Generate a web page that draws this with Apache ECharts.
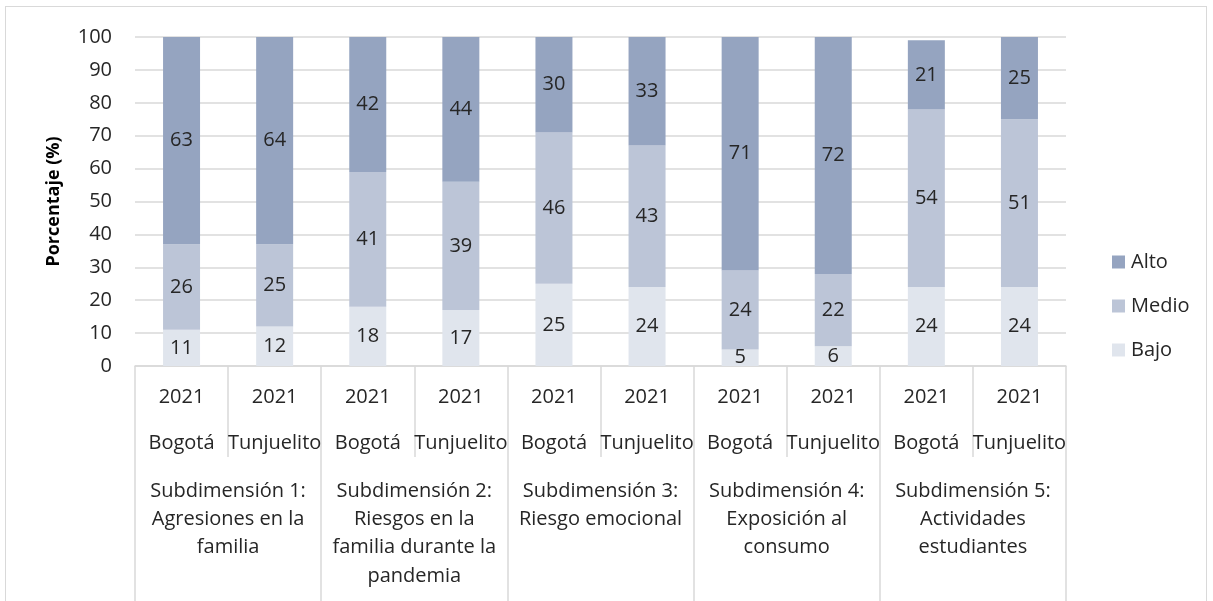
<!DOCTYPE html>
<html>
<head>
<meta charset="utf-8">
<script src="https://cdn.jsdelivr.net/npm/echarts@6/dist/echarts.min.js"></script>
<style>
  html, body { margin: 0; padding: 0; background: #fff; }
  #chart { position: absolute; left: 5px; top: 6px; width: 1202px; height: 600px; box-sizing: border-box; border: 1px solid #d9d9d9; border-bottom: none; }
</style>
</head>
<body>
<div id="chart"></div>
<script>
// Group labels for the three-level category axis
const years = ['2021', '2021', '2021', '2021', '2021', '2021', '2021', '2021', '2021', '2021'];
const cities = ['Bogotá', 'Tunjuelito', 'Bogotá', 'Tunjuelito', 'Bogotá', 'Tunjuelito', 'Bogotá', 'Tunjuelito', 'Bogotá', 'Tunjuelito'];
const subdimensions = [
  'Subdimensión 1:\nAgresiones en la\nfamilia',
  'Subdimensión 2:\nRiesgos en la\nfamilia durante la\npandemia',
  'Subdimensión 3:\nRiesgo emocional',
  'Subdimensión 4:\nExposición al\nconsumo',
  'Subdimensión 5:\nActividades\nestudiantes'
];

// Percentages per risk level
const bajo  = [11, 12, 18, 17, 25, 24, 5, 6, 24, 24];
const medio = [26, 25, 41, 39, 46, 43, 24, 22, 54, 51];
const alto  = [63, 64, 42, 44, 30, 33, 71, 72, 21, 25];

const yTicks = { min: 0, max: 100, interval: 10 };

const FONT = '"Open Sans", "Noto Sans", sans-serif';
const TEXT = '#262626';
const GRID = '#d9d9d9';
const SIZE = 20;

const chart = echarts.init(document.getElementById('chart'), null, { renderer: 'canvas' });

const keys = cities.map((c, i) => i + ':' + c);

function stackSeries(name, values, color) {
  return {
    name: name,
    type: 'bar',
    stack: 'nivel',
    xAxisIndex: 0,
    barWidth: 37,
    data: values,
    itemStyle: { color: color },
    label: {
      show: true,
      position: 'inside',
      color: TEXT,
      fontFamily: FONT,
      fontSize: SIZE
    }
  };
}

chart.setOption({
  animation: false,
  textStyle: { fontFamily: FONT },
  grid: { left: 129, right: 140, top: 30, bottom: 240, containLabel: false },
  legend: {
    orient: 'vertical',
    left: 1101,
    top: 240,
    itemWidth: 13,
    itemHeight: 13,
    itemGap: 24,
    icon: 'rect',
    data: ['Alto', 'Medio', 'Bajo'],
    textStyle: { color: TEXT, fontSize: SIZE, fontFamily: FONT, padding: [0, 0, 0, 1] }
  },
  xAxis: [
    {
      type: 'category',
      data: keys,
      position: 'bottom',
      axisLine: { show: true, lineStyle: { color: GRID, width: 1.5 } },
      axisTick: { show: true, length: 91, lineStyle: { color: GRID, width: 1.5 } },
      axisLabel: {
        interval: 0,
        margin: 8,
        color: TEXT,
        fontFamily: FONT,
        fontSize: SIZE,
        lineHeight: 46,
        formatter: (v, i) => years[i] + '\n' + cities[i]
      }
    },
    {
      type: 'category',
      data: subdimensions,
      position: 'bottom',
      offset: 0,
      axisLine: { show: false },
      axisTick: { show: true, length: 240, lineStyle: { color: GRID, width: 1.5 } },
      axisLabel: {
        interval: 0,
        margin: 111,
        color: TEXT,
        fontFamily: FONT,
        fontSize: SIZE,
        lineHeight: 28.3,
        align: 'center'
      }
    }
  ],
  yAxis: {
    type: 'value',
    min: yTicks.min,
    max: yTicks.max,
    interval: yTicks.interval,
    name: 'Porcentaje (%)',
    nameLocation: 'middle',
    nameGap: 72,
    nameRotate: 90,
    nameTextStyle: { color: '#000', fontSize: 18, fontWeight: 'bold', fontFamily: FONT },
    axisLine: { show: false },
    axisTick: { show: false },
    axisLabel: { color: TEXT, fontSize: SIZE, fontFamily: FONT, margin: 23 },
    splitLine: { lineStyle: { color: GRID, width: 1.5 } }
  },
  series: [
    stackSeries('Bajo', bajo, '#e0e5ed'),
    stackSeries('Medio', medio, '#bcc5d7'),
    stackSeries('Alto', alto, '#95a4c0')
  ]
});
</script>
</body>
</html>
